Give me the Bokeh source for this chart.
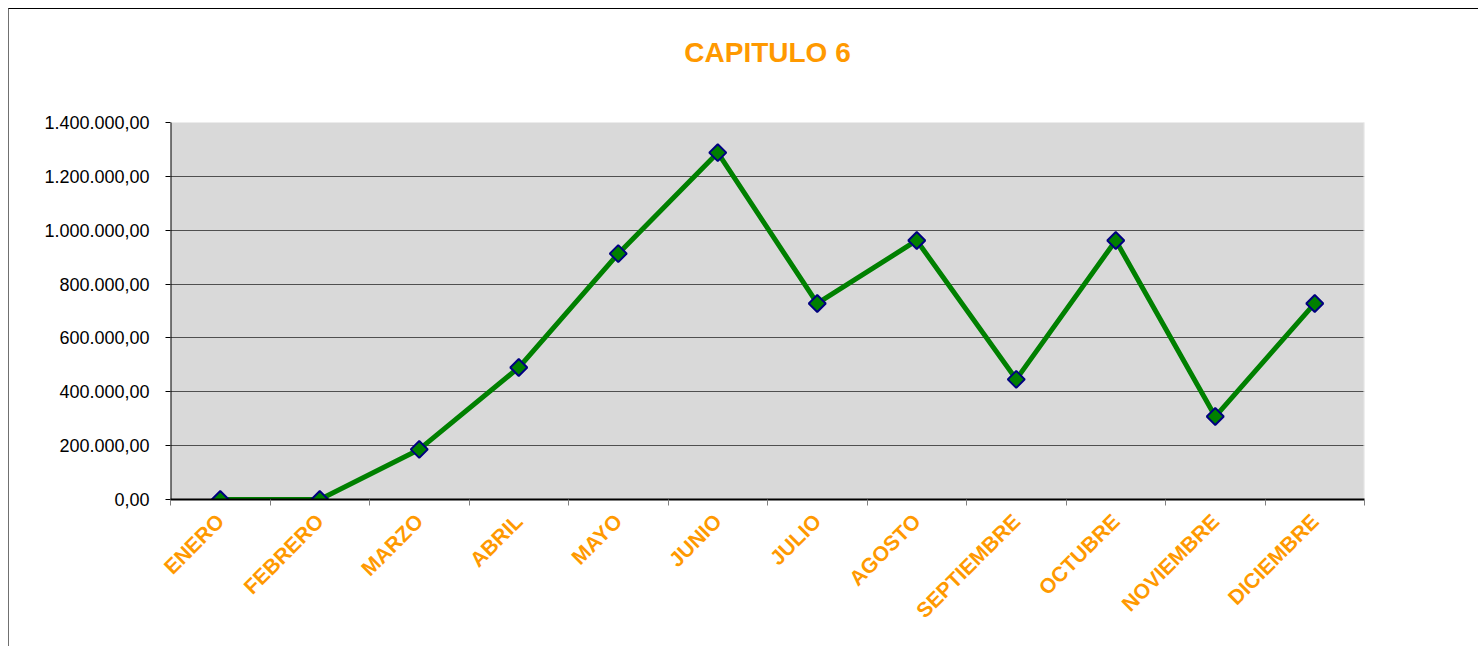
import math
from bokeh.plotting import figure
from bokeh.models import Range1d, FixedTicker, ColumnDataSource, Label
from bokeh.embed import file_html
from bokeh.resources import INLINE

months = ["ENERO", "FEBRERO", "MARZO", "ABRIL", "MAYO", "JUNIO", "JULIO",
          "AGOSTO", "SEPTIEMBRE", "OCTUBRE", "NOVIEMBRE", "DICIEMBRE"]
values = [0, 0, 186000, 490000, 913000, 1288000, 728000,
          962000, 446000, 962000, 308000, 728000]
y_ticks = [0, 200000, 400000, 600000, 800000, 1000000, 1200000, 1400000]
y_tick_labels = ["0,00", "200.000,00", "400.000,00", "600.000,00", "800.000,00",
                 "1.000.000,00", "1.200.000,00", "1.400.000,00"]
title_text = "CAPITULO 6"

ORANGE = "#FF9900"
Y_MAX = 1400000

# layout (pixels)
FIG_H = 638
BORDER_BOTTOM = 148
PLOT_H = 377          # height of the gray plot area
FRAME_H = FIG_H - BORDER_BOTTOM
TITLE_BASELINE = 43   # title baseline, px below the frame top

xs = [i + 0.5 for i in range(len(months))]
src = ColumnDataSource(dict(x=xs, y=values, m=months))

y_top = Y_MAX * FRAME_H / PLOT_H

p = figure(width=1470, height=FIG_H, output_backend="svg", toolbar_location=None,
           title=None,
           x_range=Range1d(0, len(months)), y_range=Range1d(0, y_top),
           min_border_left=161, min_border_right=115, min_border_top=0,
           min_border_bottom=BORDER_BOTTOM)
p.styles = {"border-top": "1px solid #000000", "border-left": "1px solid #707070",
            "margin-top": "8px", "margin-left": "8px"}

p.background_fill_color = "#FFFFFF"
p.border_fill_color = "#FFFFFF"
p.outline_line_color = None

# title
p.add_layout(Label(x=len(months) / 2, y=y_top * (FRAME_H - TITLE_BASELINE) / FRAME_H,
                   text=title_text, text_align="center", text_baseline="alphabetic",
                   text_color=ORANGE, text_font="Liberation Sans",
                   text_font_size="28px", text_font_style="bold"))

# gray plot area
p.block(x=0, y=0, width=len(months), height=Y_MAX, fill_color="#D9D9D9",
        line_color=None, level="underlay")

# y axis
p.yaxis.ticker = FixedTicker(ticks=y_ticks)
p.yaxis.major_label_overrides = {t: l for t, l in zip(y_ticks, y_tick_labels)}
p.yaxis.major_label_text_font = "Liberation Sans"
p.yaxis.major_label_text_font_size = "18px"
p.yaxis.major_label_text_color = "#000000"
p.yaxis.major_label_standoff = 16
p.yaxis.axis_line_color = None
p.yaxis.major_tick_line_color = "#000000"
p.yaxis.major_tick_out = 5
p.yaxis.major_tick_in = 0
p.yaxis.minor_tick_line_color = None
# visible y axis line, only along the plot area
p.line(x=[0, 0], y=[0, Y_MAX], line_color="#000000", line_width=2)

# x axis
p.xaxis.ticker = FixedTicker(ticks=xs, minor_ticks=list(range(len(months) + 1)))
p.xaxis.major_label_overrides = {x: m for x, m in zip(xs, months)}
p.xaxis.major_label_orientation = math.pi / 4
p.xaxis.major_label_text_font = "Liberation Sans"
p.xaxis.major_label_text_font_size = "21px"
p.xaxis.major_label_text_font_style = "bold"
p.xaxis.major_label_text_color = ORANGE
p.xaxis.major_label_standoff = 12
p.xaxis.major_tick_line_color = None
p.xaxis.axis_line_color = "#000000"
p.xaxis.axis_line_width = 2
p.xaxis.minor_tick_line_color = "#808080"
p.xaxis.minor_tick_out = 6
p.xaxis.minor_tick_in = 0
p.xaxis.minor_tick_line_width = 1

p.xgrid.grid_line_color = None
p.ygrid.ticker = FixedTicker(ticks=y_ticks[:-1])
p.ygrid.grid_line_color = "#505050"
p.ygrid.grid_line_width = 1

# right edge of plot area
p.line(x=[len(months), len(months)], y=[0, Y_MAX], line_color="#E8E8E8", line_width=2)

p.line("x", "y", source=src, line_color="#008000", line_width=5)
p.scatter("x", "y", source=src, marker="square", size=12, angle=math.pi / 4,
          fill_color="#008000", line_color="#000080", line_width=2)

open("out.html", "w").write(file_html(p, INLINE))
